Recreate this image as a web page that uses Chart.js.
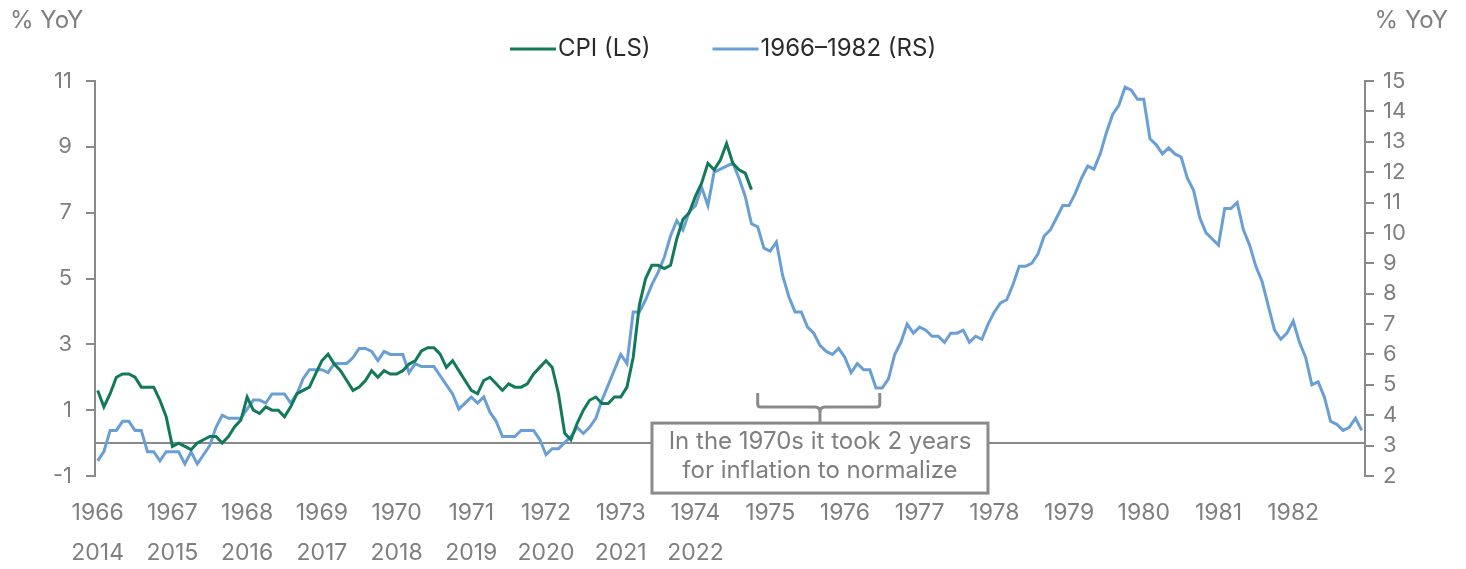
<!DOCTYPE html>
<html lang="en">

<head>
    <meta charset="UTF-8">
    <title>CPI vs 1966-1982</title>
    <script src="https://cdn.jsdelivr.net/npm/chart.js"></script>
    <style>
        body { margin: 0; background: #fff; }
        canvas { display: block; }
    </style>
</head>

<body>
    <canvas id="cpiChart" width="1466" height="569"></canvas>

    <script>
        // CPI YoY, Jan 2014 - Oct 2022 (left scale)
        const cpi = [
            1.6, 1.1, 1.5, 2.0, 2.1, 2.1, 2.0, 1.7, 1.7, 1.7, 1.3, 0.8,
            -0.1, 0.0, -0.1, -0.2, 0.0, 0.1, 0.2, 0.2, 0.0, 0.2, 0.5, 0.7,
            1.4, 1.0, 0.9, 1.1, 1.0, 1.0, 0.8, 1.1, 1.5, 1.6, 1.7, 2.1,
            2.5, 2.7, 2.4, 2.2, 1.9, 1.6, 1.7, 1.9, 2.2, 2.0, 2.2, 2.1,
            2.1, 2.2, 2.4, 2.5, 2.8, 2.9, 2.9, 2.7, 2.3, 2.5, 2.2, 1.9,
            1.6, 1.5, 1.9, 2.0, 1.8, 1.6, 1.8, 1.7, 1.7, 1.8, 2.1, 2.3,
            2.5, 2.3, 1.5, 0.3, 0.1, 0.6, 1.0, 1.3, 1.4, 1.2, 1.2, 1.4,
            1.4, 1.7, 2.6, 4.2, 5.0, 5.4, 5.4, 5.3, 5.4, 6.2, 6.8, 7.0,
            7.5, 7.9, 8.5, 8.3, 8.6, 9.1, 8.5, 8.3, 8.2, 7.7
        ];

        // 1966-1982 episode YoY (right scale), monthly
        const rs = [
            2.5, 2.8, 3.5, 3.5, 3.8, 3.8, 3.5,
            3.5, 2.8, 2.8, 2.5, 2.8, 2.8, 2.8, 2.4, 2.8, 2.4, 2.7, 3.0,
            3.6, 4.0, 3.9, 3.9, 3.9, 4.2, 4.5, 4.5, 4.4, 4.7, 4.7, 4.7,
            4.4, 4.7, 5.2, 5.5, 5.5, 5.5, 5.4, 5.7, 5.7, 5.7, 5.9, 6.2,
            6.2, 6.1, 5.8, 6.1, 6.0, 6.0, 6.0, 5.4, 5.7, 5.6, 5.6, 5.6,
            5.3, 5.0, 4.7, 4.2, 4.4, 4.6, 4.4, 4.6, 4.1, 3.8, 3.3, 3.3,
            3.3, 3.5, 3.5, 3.5, 3.2, 2.7, 2.9, 2.9, 3.1, 3.3, 3.6, 3.4,
            3.6, 3.9, 4.5, 5.0, 5.5, 6.0, 5.7, 7.4, 7.4, 7.8, 8.3, 8.7,
            9.2, 9.9, 10.4, 10.1, 10.7, 10.9, 11.5, 10.9, 12.0, 12.1, 12.2, 12.3,
            11.8, 11.2, 10.3, 10.2, 9.5, 9.4, 9.7, 8.6, 7.9, 7.4, 7.4, 6.9,
            6.7, 6.3, 6.1, 6.0, 6.2, 5.9, 5.4, 5.7, 5.5, 5.5, 4.9, 4.9,
            5.2, 6.0, 6.4, 7.0, 6.7, 6.9, 6.8, 6.6, 6.6, 6.4, 6.7, 6.7,
            6.8, 6.4, 6.6, 6.5, 7.0, 7.4, 7.7, 7.8, 8.3, 8.9, 8.9, 9.0,
            9.3, 9.9, 10.1, 10.5, 10.9, 10.9, 11.3, 11.8, 12.2, 12.1, 12.6, 13.3,
            13.9, 14.2, 14.8, 14.7, 14.4, 14.4, 13.1, 12.9, 12.6, 12.8, 12.6, 12.5,
            11.8, 11.4, 10.5, 10.0, 9.8, 9.6, 10.8, 10.8, 11.0, 10.1, 9.6, 8.9,
            8.4, 7.6, 6.8, 6.5, 6.7, 7.1, 6.4, 5.9, 5.0, 5.1, 4.6, 3.8,
            3.7, 3.5, 3.6, 3.9, 3.5
        ];

        // axis labels
        const topYears = ['1966', '1967', '1968', '1969', '1970', '1971', '1972', '1973', '1974',
            '1975', '1976', '1977', '1978', '1979', '1980', '1981', '1982'];
        const bottomYears = ['2014', '2015', '2016', '2017', '2018', '2019', '2020', '2021', '2022'];
        const leftTicks = [-1, 1, 3, 5, 7, 9, 11];
        const rightTicks = [2, 3, 4, 5, 6, 7, 8, 9, 10, 11, 12, 13, 14, 15];

        const GREEN = '#12795a';
        const BLUE = '#6a9fd6';
        const GREY = '#7f7f7f';
        const AXIS = '#8a8a8a';
        const FONT = 'Inter, "Open Sans", sans-serif';

        // zero line, legend, side titles and the 1970s note
        const extras = {
            id: 'extras',
            beforeDatasetsDraw(chart) {
                const { ctx, chartArea, scales } = chart;
                const y0 = scales.y.getPixelForValue(0);
                ctx.save();
                ctx.strokeStyle = AXIS;
                ctx.lineWidth = 2;
                ctx.beginPath();
                ctx.moveTo(chartArea.left, y0);
                ctx.lineTo(chartArea.right, y0);
                ctx.stroke();
                ctx.restore();
            },
            afterDraw(chart) {
                const { ctx, scales } = chart;
                ctx.save();
                ctx.font = '24px ' + FONT;
                ctx.textBaseline = 'middle';

                // % YoY titles
                ctx.fillStyle = GREY;
                ctx.textAlign = 'left';
                ctx.fillText('% YoY', 10, 21);
                ctx.textAlign = 'right';
                ctx.fillText('% YoY', 1448, 21);

                // legend
                ctx.textAlign = 'left';
                const items = [['CPI (LS)', GREEN], ['1966\u20131982 (RS)', BLUE]];
                let lx = 510;
                items.forEach(([txt, col]) => {
                    ctx.strokeStyle = col;
                    ctx.lineWidth = 3;
                    ctx.beginPath();
                    ctx.moveTo(lx, 49);
                    ctx.lineTo(lx + 46, 49);
                    ctx.stroke();
                    ctx.fillStyle = '#2b2b2b';
                    ctx.fillText(txt, lx + 48, 49);
                    lx += 48 + ctx.measureText(txt).width + 62;
                });

                // brace over the 1975-76 fall
                const x = scales.x;
                const bx1 = x.getPixelForValue(106);
                const bx2 = x.getPixelForValue(125.6);
                const bc = x.getPixelForValue(116);
                const y0 = scales.y.getPixelForValue(0);
                const by = y0 - 36;
                ctx.strokeStyle = AXIS;
                ctx.lineWidth = 3;
                ctx.beginPath();
                ctx.moveTo(bx1, by - 14);
                ctx.lineTo(bx1, by - 3);
                ctx.quadraticCurveTo(bx1, by, bx1 + 3, by);
                ctx.lineTo(bc - 5, by);
                ctx.quadraticCurveTo(bc, by, bc, by + 5);
                ctx.lineTo(bc, by + 16);
                ctx.moveTo(bx2, by - 14);
                ctx.lineTo(bx2, by - 3);
                ctx.quadraticCurveTo(bx2, by, bx2 - 3, by);
                ctx.lineTo(bc + 5, by);
                ctx.quadraticCurveTo(bc, by, bc, by + 5);
                ctx.stroke();

                // note box
                const bw = 336, bh = 70;
                const left = bc - bw / 2, top = by + 16;
                ctx.fillStyle = '#ffffff';
                ctx.fillRect(left, top, bw, bh);
                ctx.strokeRect(left, top, bw, bh);
                ctx.fillStyle = GREY;
                ctx.textAlign = 'center';
                ctx.fillText('In the 1970s it took 2 years', bc, top + 19);
                ctx.fillText('for inflation to normalize', bc, top + 48);
                ctx.restore();
            }
        };

        const tickFont = { family: FONT, size: 22 };

        new Chart(document.getElementById('cpiChart'), {
            type: 'line',
            data: {
                datasets: [{
                    label: 'CPI (LS)',
                    data: cpi.map((v, i) => ({ x: i, y: v })),
                    yAxisID: 'y',
                    borderColor: GREEN,
                    backgroundColor: GREEN,
                    borderWidth: 3,
                    pointRadius: 0,
                    tension: 0
                }, {
                    label: '1966\u20131982 (RS)',
                    data: rs.map((v, i) => ({ x: i, y: v })),
                    yAxisID: 'y2',
                    borderColor: BLUE,
                    backgroundColor: BLUE,
                    borderWidth: 3,
                    pointRadius: 0,
                    tension: 0
                }]
            },
            options: {
                responsive: false,
                animation: false,
                layout: { padding: { top: 81, left: 0, right: 0, bottom: 0 } },
                plugins: {
                    legend: { display: false },
                    tooltip: { enabled: false }
                },
                scales: {
                    x: {
                        type: 'linear',
                        min: -0.43,
                        max: 203.53,
                        grid: { display: false, drawTicks: false },
                        border: { display: false },
                        afterBuildTicks: axis => {
                            axis.ticks = topYears.map((_, k) => ({ value: k * 12 }));
                        },
                        afterFit: axis => { axis.height = 93; },
                        ticks: {
                            autoSkip: false,
                            maxRotation: 0,
                            padding: 18,
                            color: GREY,
                            font: { family: FONT, size: 23, lineHeight: 1.7 },
                            callback: value => {
                                const k = Math.round(value / 12);
                                return bottomYears[k] ? [topYears[k], bottomYears[k]] : topYears[k];
                            }
                        }
                    },
                    y: {
                        position: 'left',
                        min: -1,
                        max: 11,
                        afterBuildTicks: axis => {
                            axis.ticks = leftTicks.map(v => ({ value: v }));
                        },
                        afterFit: axis => { axis.width = 95; },
                        grid: { drawOnChartArea: false, tickLength: 9, color: AXIS, lineWidth: 2 },
                        border: { color: AXIS, width: 2 },
                        ticks: { color: GREY, font: tickFont, padding: 14 }
                    },
                    y2: {
                        position: 'right',
                        min: 2,
                        max: 15,
                        afterBuildTicks: axis => {
                            axis.ticks = rightTicks.map(v => ({ value: v }));
                        },
                        afterFit: axis => { axis.width = 101; },
                        grid: { drawOnChartArea: false, tickLength: 9, color: AXIS, lineWidth: 2 },
                        border: { color: AXIS, width: 2 },
                        ticks: { color: GREY, font: tickFont, padding: 9 }
                    }
                }
            },
            plugins: [extras]
        });
    </script>
</body>

</html>
